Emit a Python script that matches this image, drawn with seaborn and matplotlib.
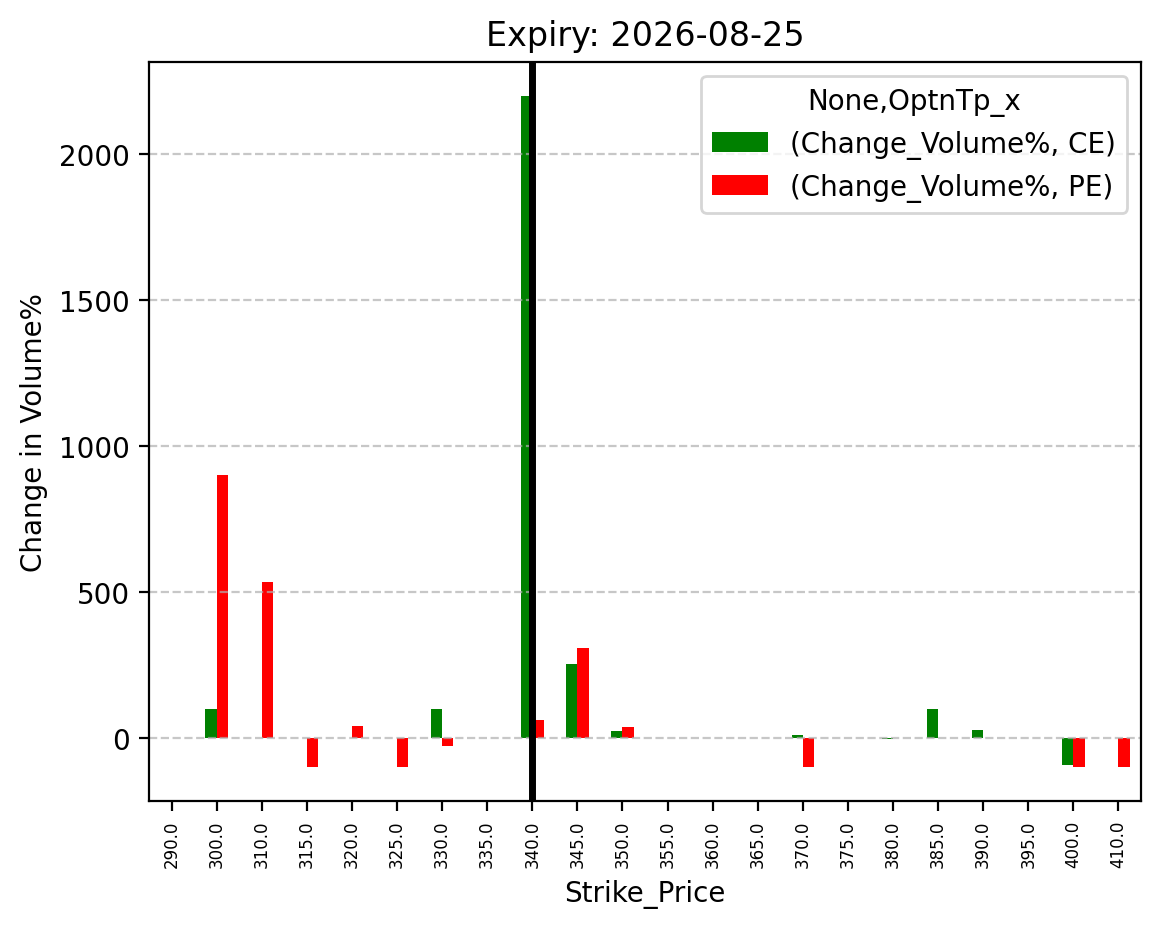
import numpy as np
import pandas as pd
import matplotlib
matplotlib.use("Agg")
import matplotlib.pyplot as plt
import seaborn as sns

# strike prices on the x axis
strikes = [290.0, 300.0, 310.0, 315.0, 320.0, 325.0, 330.0, 335.0, 340.0, 345.0, 350.0,
           355.0, 360.0, 365.0, 370.0, 375.0, 380.0, 385.0, 390.0, 395.0, 400.0, 410.0]

# change in volume % per option type (NaN = no value)
ce_change = [np.nan, 100, np.nan, np.nan, np.nan, np.nan, 100, np.nan, 2200, 252, 24,
             np.nan, -1, np.nan, 9, np.nan, -5, 100, 26, np.nan, -94, np.nan]
pe_change = [np.nan, 900, 534, -100, 40, -100, -30, np.nan, 60, 307, 36,
             np.nan, np.nan, np.nan, -100, np.nan, np.nan, np.nan, np.nan, np.nan, -100, -100]

expiry = "2026-08-25"
spot_strike = 340.0
option_types = ["CE", "PE"]
legend_labels = ["(Change_Volume%, CE)", "(Change_Volume%, PE)"]

strike_labels = [f"{s:.1f}" for s in strikes]
df = pd.DataFrame({
    "Strike_Price": strike_labels * 2,
    "OptnTp_x": ["CE"] * len(strikes) + ["PE"] * len(strikes),
    "Change_Volume%": ce_change + pe_change,
}).dropna()

fig = plt.figure(figsize=(1161 / 200, 928 / 200), dpi=200)
ax = fig.add_axes([149 / 1161, 1 - 801.5 / 928, (1141 - 149) / 1161, (801.5 - 63) / 928])

sns.barplot(data=df, x="Strike_Price", y="Change_Volume%", hue="OptnTp_x",
            order=strike_labels, hue_order=option_types,
            palette={"CE": "green", "PE": "red"}, width=0.5,
            errorbar=None, saturation=1, ax=ax)

ax.axvline(strike_labels.index(f"{spot_strike:.1f}"), color="black", linewidth=2.5)

ax.set_xlim(-0.5, len(strikes) - 0.5)
lo = min(np.nanmin(ce_change), np.nanmin(pe_change))
hi = max(np.nanmax(ce_change), np.nanmax(pe_change))
pad = 0.05 * (hi - lo)
ax.set_ylim(lo - pad, hi + pad)

ax.tick_params(axis="x", labelrotation=90, labelsize=6)
ax.set_xlabel("Strike_Price")
ax.set_ylabel("Change in Volume%")
ax.set_title(f"Expiry: {expiry}")
ax.grid(axis="y", linestyle="--", alpha=0.7)

handles, _ = ax.get_legend_handles_labels()
ax.legend(handles, legend_labels, title="None,OptnTp_x", loc="upper right")

fig.savefig("out.png", dpi=200)
